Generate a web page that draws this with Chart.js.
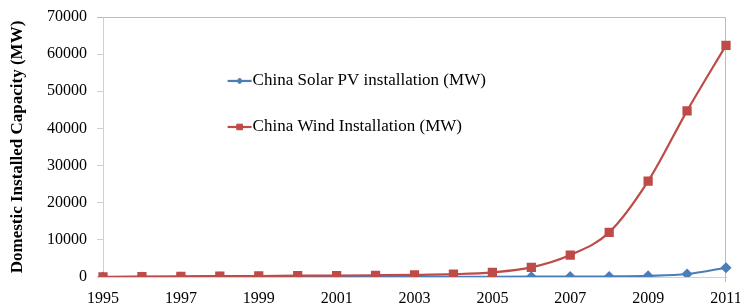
<!DOCTYPE html>
<html>
<head>
<meta charset="utf-8">
<script src="https://cdn.jsdelivr.net/npm/chart.js@4"></script>
<style>
  html, body { margin: 0; padding: 0; background: #fff; }
  canvas { display: block; }
</style>
</head>
<body>
<canvas id="capChart" width="740" height="304"></canvas>
<script>
// --- DATA ---
const years = ['1995','1996','1997','1998','1999','2000','2001','2002','2003',
               '2004','2005','2006','2007','2008','2009','2010','2011'];
const solarPV = [5, 11, 16, 19, 22, 19, 24, 42, 52, 62, 70, 80, 100, 140, 300, 800, 2500];
const wind = [38, 79, 170, 224, 268, 346, 400, 468, 568, 764, 1260, 2599, 5912, 12020, 25805, 44733, 62364];
const yTicks = { min: 0, max: 70000, step: 10000 };
const seriesNames = ['China Solar PV installation (MW)', 'China Wind Installation (MW)'];
const axisTitle = 'Domestic Installed Capacity (MW)';

const BLUE = '#4A7EBB';
const RED = '#BE4B48';
const SERIF = "'Liberation Serif', 'Times New Roman', serif";

// legend drawn inside the plot, like the Excel original
const insideLegend = {
    id: 'insideLegend',
    afterDraw(chart, args, opts) {
        const ctx = chart.ctx;
        const area = chart.chartArea;
        const x0 = area.left + opts.x * (area.right - area.left);
        ctx.save();
        ctx.font = '17px ' + SERIF;
        ctx.textBaseline = 'middle';
        opts.items.forEach((it, i) => {
            const ds = chart.data.datasets[it.dataset];
            const y = area.top + opts.y[i] * (area.bottom - area.top);
            ctx.strokeStyle = ds.borderColor;
            ctx.lineWidth = ds.borderWidth;
            ctx.beginPath();
            ctx.moveTo(x0, y);
            ctx.lineTo(x0 + 24, y);
            ctx.stroke();
            ctx.fillStyle = ds.pointBackgroundColor;
            ctx.strokeStyle = ds.pointBorderColor;
            ctx.lineWidth = 1;
            Chart.helpers.drawPoint(ctx, { pointStyle: ds.pointStyle, radius: ds.pointRadius - 1, borderWidth: 1 }, x0 + 12, y);
            ctx.fillStyle = '#000';
            ctx.fillText(ds.label, x0 + 25, y);
        });
        ctx.restore();
    }
};

// light blue frame on top and right of the plot area
const plotFrame = {
    id: 'plotFrame',
    beforeDatasetsDraw(chart) {
        const ctx = chart.ctx;
        const a = chart.chartArea;
        ctx.save();
        ctx.strokeStyle = '#A9C0DD';
        ctx.lineWidth = 1;
        ctx.beginPath();
        ctx.moveTo(a.left - 6, Math.round(a.top) + 0.5);
        ctx.lineTo(Math.round(a.right) - 0.5, Math.round(a.top) + 0.5);
        ctx.lineTo(Math.round(a.right) - 0.5, a.bottom + 5);
        ctx.stroke();
        ctx.restore();
    }
};

const ctx = document.getElementById('capChart').getContext('2d');
new Chart(ctx, {
    type: 'line',
    data: {
        labels: years,
        datasets: [
            {
                label: seriesNames[1],
                data: wind,
                borderColor: RED,
                backgroundColor: RED,
                pointBackgroundColor: RED,
                pointBorderColor: RED,
                borderWidth: 2.2,
                pointStyle: 'rect',
                pointRadius: 5,
                cubicInterpolationMode: 'monotone',
                order: 0
            },
            {
                label: seriesNames[0],
                data: solarPV,
                borderColor: BLUE,
                backgroundColor: BLUE,
                pointBackgroundColor: BLUE,
                pointBorderColor: BLUE,
                borderWidth: 2.2,
                pointStyle: 'rectRot',
                pointRadius: 4,
                cubicInterpolationMode: 'monotone',
                order: 1
            }
        ]
    },
    options: {
        responsive: false,
        animation: false,
        layout: { padding: { top: 17, right: 14, left: 0, bottom: 0 } },
        plugins: {
            legend: { display: false },
            tooltip: { enabled: false },
            insideLegend: { x: 0.2, y: [0.246, 0.423], items: [{ dataset: 1 }, { dataset: 0 }] }
        },
        scales: {
            x: {
                type: 'category',
                offset: false,
                grid: { display: true, drawOnChartArea: false, drawTicks: false },
                border: { display: true, color: '#D0D0D0', width: 1 },
                ticks: {
                    autoSkip: false,
                    maxRotation: 0,
                    padding: 12,
                    color: '#000',
                    font: { family: SERIF, size: 16 },
                    callback: function(val, idx) { return idx % 2 === 0 ? this.getLabelForValue(val) : ''; }
                },
                afterFit: (scale) => { scale.paddingLeft = 0; scale.paddingRight = 0; scale.height = 27; }
            },
            y: {
                min: yTicks.min,
                max: yTicks.max,
                grid: { display: true, drawOnChartArea: false, drawTicks: true, tickLength: 6, color: '#D0D0D0' },
                border: { display: true, color: '#D0D0D0', width: 1 },
                ticks: {
                    stepSize: yTicks.step,
                    padding: 10,
                    color: '#000',
                    font: { family: SERIF, size: 16 },
                    callback: (v) => String(v)
                },
                title: {
                    display: true,
                    text: axisTitle,
                    color: '#000',
                    font: { family: SERIF, size: 17, weight: 'bold' },
                    padding: { top: 7, bottom: 0 }
                },
                afterFit: (scale) => { scale.width = 103; scale.paddingTop = 0; scale.paddingBottom = 0; }
            }
        }
    },
    plugins: [insideLegend, plotFrame]
});
</script>
</body>
</html>
